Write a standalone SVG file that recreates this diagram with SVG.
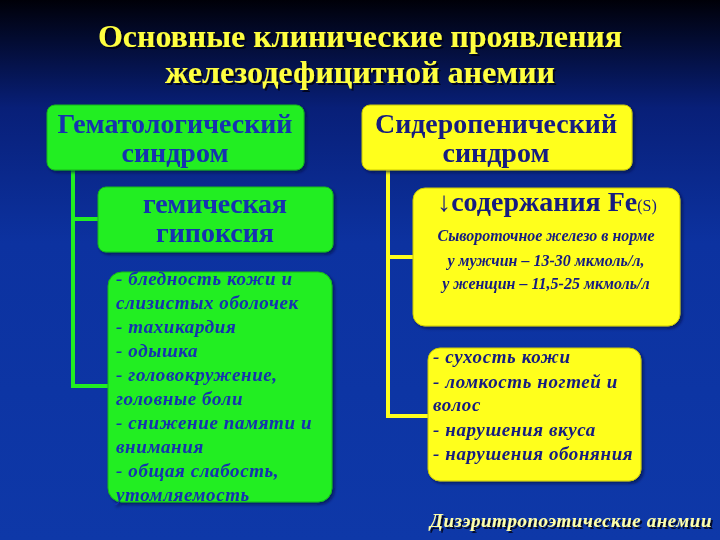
<svg xmlns="http://www.w3.org/2000/svg" width="720" height="540" viewBox="0 0 720 540">
<defs>
<linearGradient id="bg" x1="0" y1="0" x2="0" y2="1">
<stop offset="0" stop-color="#000008"/>
<stop offset="0.2" stop-color="#081f78"/>
<stop offset="0.45" stop-color="#0c32a0"/>
<stop offset="1" stop-color="#0e38a8"/>
</linearGradient>
<filter id="sh" x="-10%" y="-10%" width="120%" height="130%">
<feDropShadow dx="2" dy="2" stdDeviation="0.6" flood-color="#000010" flood-opacity="0.8"/>
</filter>
<filter id="bsh" x="-10%" y="-10%" width="120%" height="120%">
<feDropShadow dx="2" dy="2" stdDeviation="1.5" flood-color="#001040" flood-opacity="0.7"/>
</filter>
</defs>
<style>
.title{font-family:"Liberation Serif","DejaVu Serif",serif;font-weight:bold;font-size:32px;fill:#ffff40;text-anchor:middle}
.green{fill:#22ee22;stroke:#18b818;stroke-width:1}
.yellow{fill:#ffff1e;stroke:#c8c800;stroke-width:1}
.hd{font-family:"Liberation Serif","DejaVu Serif",serif;font-weight:bold;font-size:28px;text-anchor:middle}
.gt{fill:#1430b0}
.yt{fill:#141a80}
.it{font-family:"Liberation Serif","DejaVu Serif",serif;font-weight:bold;font-style:italic;font-size:19px;letter-spacing:0.6px}
.sm{font-family:"Liberation Serif","DejaVu Serif",serif;font-weight:bold;font-style:italic;font-size:16px;text-anchor:middle}
.gl{stroke:#22ee22;stroke-width:4;fill:none}
.yl{stroke:#ffff1e;stroke-width:4;fill:none}
</style>
<rect x="0" y="0" width="720" height="540" fill="url(#bg)"/>

<g id="title" filter="url(#sh)">
<text class="title" x="360" y="47" textLength="524" lengthAdjust="spacingAndGlyphs">Основные клинические проявления</text>
<text class="title" x="360" y="83" textLength="390" lengthAdjust="spacingAndGlyphs">железодефицитной анемии</text>
</g>

<g id="connectors">
<polyline class="gl" points="73,170 73,386 109,386"/>
<line class="gl" x1="73" y1="219" x2="98" y2="219"/>
<polyline class="yl" points="388,170 388,416 429,416"/>
<line class="yl" x1="388" y1="257" x2="414" y2="257"/>
</g>

<g id="hemat" filter="url(#bsh)">
<rect class="green" x="47" y="105" width="257" height="65" rx="8"/>
<text class="hd gt" x="175" y="133" textLength="235" lengthAdjust="spacingAndGlyphs">Гематологический</text>
<text class="hd gt" x="175" y="162">синдром</text>
</g>

<g id="hypoxia" filter="url(#bsh)">
<rect class="green" x="98" y="187" width="235" height="65" rx="8"/>
<text class="hd gt" x="215" y="213" font-size="26" textLength="144" lengthAdjust="spacing">гемическая</text>
<text class="hd gt" x="215" y="242" font-size="26" textLength="118" lengthAdjust="spacing">гипоксия</text>
</g>

<g id="hemsymptoms" filter="url(#bsh)">
<rect class="green" x="108" y="272" width="224" height="230" rx="14"/>
<g class="it gt">
<text x="116" y="285">- бледность кожи и</text>
<text x="116" y="309">слизистых оболочек</text>
<text x="116" y="333">- тахикардия</text>
<text x="116" y="357">- одышка</text>
<text x="116" y="381">- головокружение,</text>
<text x="116" y="405">головные боли</text>
<text x="116" y="429">- снижение памяти и</text>
<text x="116" y="453">внимания</text>
<text x="116" y="477">- общая слабость,</text>
<text x="116" y="501">утомляемость</text>
</g>
</g>

<g id="sider" filter="url(#bsh)">
<rect class="yellow" x="362" y="105" width="270" height="65" rx="8"/>
<text class="hd yt" x="496" y="133" textLength="242" lengthAdjust="spacingAndGlyphs">Сидеропенический</text>
<text class="hd yt" x="496" y="162">синдром</text>
</g>

<g id="fe" filter="url(#bsh)">
<rect class="yellow" x="413" y="188" width="267" height="138" rx="12"/>
<text class="hd yt" x="547" y="211">↓содержания Fe<tspan font-size="16" font-weight="normal">(S)</tspan></text>
<text class="sm yt" x="546" y="241">Сывороточное железо в норме</text>
<text class="sm yt" x="546" y="266">у мужчин – 13-30 мкмоль/л,</text>
<text class="sm yt" x="546" y="289">у женщин – 11,5-25 мкмоль/л</text>
</g>

<g id="sidsymptoms" filter="url(#bsh)">
<rect class="yellow" x="428" y="348" width="213" height="133" rx="12"/>
<g class="it yt">
<text x="433" y="363">- сухость кожи</text>
<text x="433" y="388">- ломкость ногтей и</text>
<text x="433" y="411">волос</text>
<text x="433" y="436">- нарушения вкуса</text>
<text x="433" y="460">- нарушения обоняния</text>
</g>
</g>

<g id="footer" filter="url(#sh)">
<text class="it" x="430" y="527" fill="#ffffa8" font-size="19" textLength="282" lengthAdjust="spacingAndGlyphs">Дизэритропоэтические анемии</text>
</g>
</svg>
